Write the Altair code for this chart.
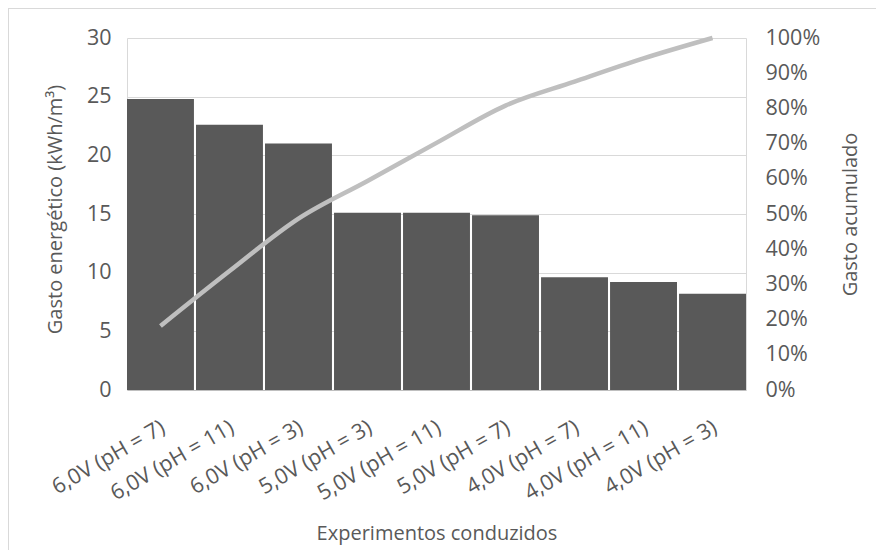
import altair as alt
import pandas as pd

categories = ["6,0V (pH = 7)", "6,0V (pH = 11)", "6,0V (pH = 3)", "5,0V (pH = 3)",
              "5,0V (pH = 11)", "5,0V (pH = 7)", "4,0V (pH = 7)", "4,0V (pH = 11)", "4,0V (pH = 3)"]
gasto = [24.8, 22.6, 21.0, 15.1, 15.1, 14.9, 9.6, 9.2, 8.2]
acumulado = [18.2, 33.8, 48.7, 59.4, 70.2, 80.8, 87.6, 94.2, 100.0]

df = pd.DataFrame({"cat": categories, "gasto": gasto, "acum": [a / 100 for a in acumulado]})

FONT = "Open Sans"
TXT = "#595959"
FS = 21.5
TS = 20

x_enc = alt.X("cat:N", sort=categories, title="Experimentos conduzidos",
              scale=alt.Scale(paddingInner=0.03, paddingOuter=0),
              axis=alt.Axis(labelAngle=330, labelAlign="right", labelBaseline="middle",
                            labelPadding=36, labelOffset=3, ticks=False, domainColor="#bfbfbf",
                            titleY=143, titleBaseline="middle",
                            labelFontSize=FS, titleFontSize=TS))

bars = alt.Chart(df).mark_bar(color="#595959").encode(
    x=x_enc,
    y=alt.Y("gasto:Q", title="Gasto energético (kWh/m³)",
            scale=alt.Scale(domain=[0, 30]),
            axis=alt.Axis(values=[0, 5, 10, 15, 20, 25, 30], grid=True, gridColor="#d9d9d9",
                          ticks=False, domainColor="#d9d9d9", labelPadding=16,
                          titleX=-72, titleY=171, titleBaseline="middle",
                          labelFontSize=FS, titleFontSize=TS)),
)

line = alt.Chart(df).mark_line(color="#bfbfbf", strokeWidth=4.5, interpolate="monotone").encode(
    x=alt.X("cat:N", sort=categories),
    y=alt.Y("acum:Q", title="Gasto acumulado",
            scale=alt.Scale(domain=[0, 1]),
            axis=alt.Axis(orient="right", format=".0%", values=[i / 10 for i in range(11)],
                          grid=False, ticks=False, domainColor="#d9d9d9", labelPadding=19,
                          titleX=104, titleY=176, titleAngle=270, titleBaseline="middle",
                          labelFontSize=FS, titleFontSize=TS)),
)

frame = alt.Chart(df).mark_rect(fill=None, stroke="#d9d9d9", strokeWidth=1).encode(
    x=alt.value(-118.5), x2=alt.value(800), y=alt.value(-29.5), y2=alt.value(600)
)

chart = alt.layer(frame, bars, line).resolve_scale(y="independent").properties(
    width=619, height=352,
    autosize=alt.AutoSizeParams(type="none"),
    padding={"left": 119, "top": 30, "right": 130, "bottom": 160},
).configure_view(stroke=None).configure_axis(
    labelFont=FONT, titleFont=FONT, labelColor=TXT, titleColor=TXT,
    titleFontWeight="normal"
)

chart.save("out.html", embed_options={"renderer": "svg", "actions": False})
